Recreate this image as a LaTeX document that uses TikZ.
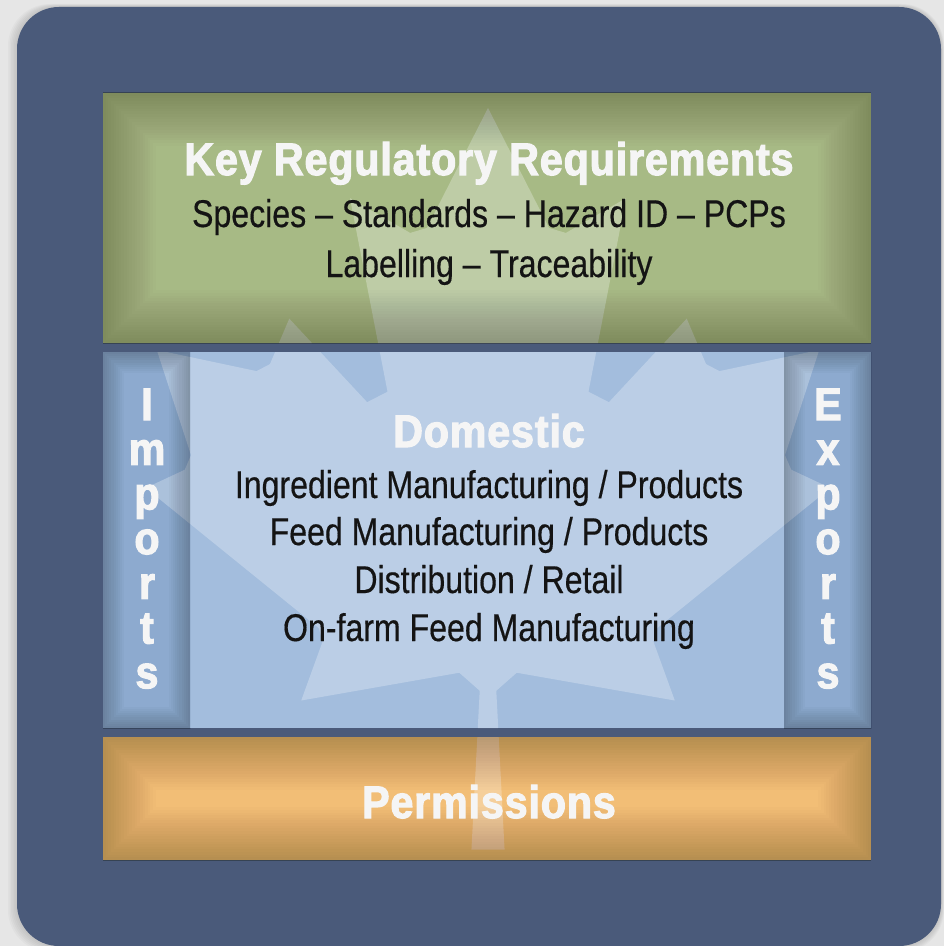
\documentclass[tikz,border=0pt]{standalone}
\usepackage{fontspec}
\setmainfont{Liberation Sans}
\newfontfamily\bodyfont[FakeStretch=0.83,FakeBold=0.4]{Liberation Sans}
\newfontfamily\headfont[FakeStretch=0.9,LetterSpace=2,FakeBold=2.5]{Liberation Sans}
\usepackage{tikz}
\usetikzlibrary{positioning}

\definecolor{paper}{HTML}{E6E6E6}
\definecolor{frameblue}{HTML}{4A5A7A}
\definecolor{reqgreen}{HTML}{A7BA85}
\definecolor{domblue}{HTML}{A3BDDD}
\definecolor{sideblue}{HTML}{8DAACF}
\definecolor{permorange}{HTML}{F2BE76}
\definecolor{ink}{HTML}{141414}

\begin{document}
\begin{tikzpicture}[x=0.02cm, y=-0.02cm,
        headtext/.style={text=white!96!black, inner sep=0pt, font={\headfont\bfseries\fontsize{26}{30}\selectfont}},
        bodytext/.style={text=ink, inner sep=0pt, font={\bodyfont\fontsize{22}{26}\selectfont}},
        sideletter/.style={headtext, anchor=base}]
        \useasboundingbox (0,0) rectangle (944,946);
        \fill[paper] (0,0) rectangle (944,946);

        % frame with a soft shadow
        \foreach \k in {1,...,6}
                \fill[black, opacity=0.025, rounded corners=0.84cm] (17-\k*1.5,7-\k*0.5) rectangle (941+\k*0.5,946+\k);
        \fill[frameblue, rounded corners=0.84cm] (17,7) rectangle (941,946);

        % panels
        \fill[reqgreen] (103,93) rectangle (871,343);
        \fill[domblue] (190,352) rectangle (784,728);
        \fill[sideblue] (103,352) rectangle (190,728);
        \fill[sideblue] (784,352) rectangle (871,728);
        \fill[permorange] (103,737) rectangle (871,860);

        % maple leaf behind the text
        \begin{scope}
                \clip (103,93) rectangle (871,343) (103,352) rectangle (871,728) (103,737) rectangle (871,860);
                \fill[white, opacity=0.27, shift={(488,476)}, scale=0.184]
                        (-90,2030) -- (-45,1167) -- (-156,1069) -- (-1015,1220) -- (-899,900) -- (-919,827)
                        -- (-1860,65) -- (-1648,-34) -- (-1614,-113) -- (-1800,-685) -- (-1258,-570) -- (-1185,-608)
                        -- (-1080,-855) -- (-657,-401) -- (-546,-458) -- (-750,-1510) -- (-423,-1321) -- (-332,-1348)
                        -- (0,-2000) -- (332,-1348) -- (423,-1321) -- (750,-1510) -- (546,-458) -- (657,-401)
                        -- (1080,-855) -- (1185,-608) -- (1258,-570) -- (1800,-685) -- (1614,-113) -- (1648,-34)
                        -- (1860,65) -- (919,827) -- (899,900) -- (1015,1220) -- (156,1069) -- (45,1167)
                        -- (90,2030) -- cycle;
        \end{scope}

        % darker edges inside the panels
        \foreach \xa/\ya/\xb/\yb in {103/93/871/343, 103/737/871/860} {
                \begin{scope}
                        \clip (\xa,\ya) rectangle (\xb,\yb);
                        \foreach \k in {1,...,20}
                                \draw[black, opacity=0.011, line join=round, line width=\k*3pt] (\xa,\ya) rectangle (\xb,\yb);
                \end{scope}
        }
        \foreach \xa/\ya/\xb/\yb in {103/352/190/728, 784/352/871/728} {
                \begin{scope}
                        \clip (\xa,\ya) rectangle (\xb,\yb);
                        \foreach \k in {1,...,10}
                                \draw[black, opacity=0.025, line join=round, line width=\k*2.4pt] (\xa,\ya) rectangle (\xb,\yb);
                \end{scope}
        }

        \node[headtext, anchor=base] (title) at (489,175) {Key Regulatory Requirements};
        \node[bodytext, anchor=base] (species) at (489,227) {Species – Standards – Hazard ID – PCPs};
        \node[bodytext, anchor=base] (labelling) at (489,277) {Labelling – Traceability};

        \node[headtext, anchor=base] (domestic) at (489,447) {Domestic};
        \node[bodytext, anchor=base] (ingredient) at (489,498) {Ingredient Manufacturing / Products};
        \node[bodytext, anchor=base] (feed) at (489,545) {Feed Manufacturing / Products};
        \node[bodytext, anchor=base] (distrib) at (489,593) {Distribution / Retail};
        \node[bodytext, anchor=base] (onfarm) at (489,641) {On-farm Feed Manufacturing};

        \node[headtext, anchor=base] (permissions) at (489,818) {Permissions};

        % side labels, one letter per line
        \foreach \ch [count=\i from 0] in {I,m,p,o,r,t,s}
                \node[sideletter] (imp\i) at (147,{420+44.7*\i}) {\ch};
        \foreach \ch [count=\i from 0] in {E,x,p,o,r,t,s}
                \node[sideletter] (exp\i) at (828,{420+44.7*\i}) {\ch};
\end{tikzpicture}
\end{document}
